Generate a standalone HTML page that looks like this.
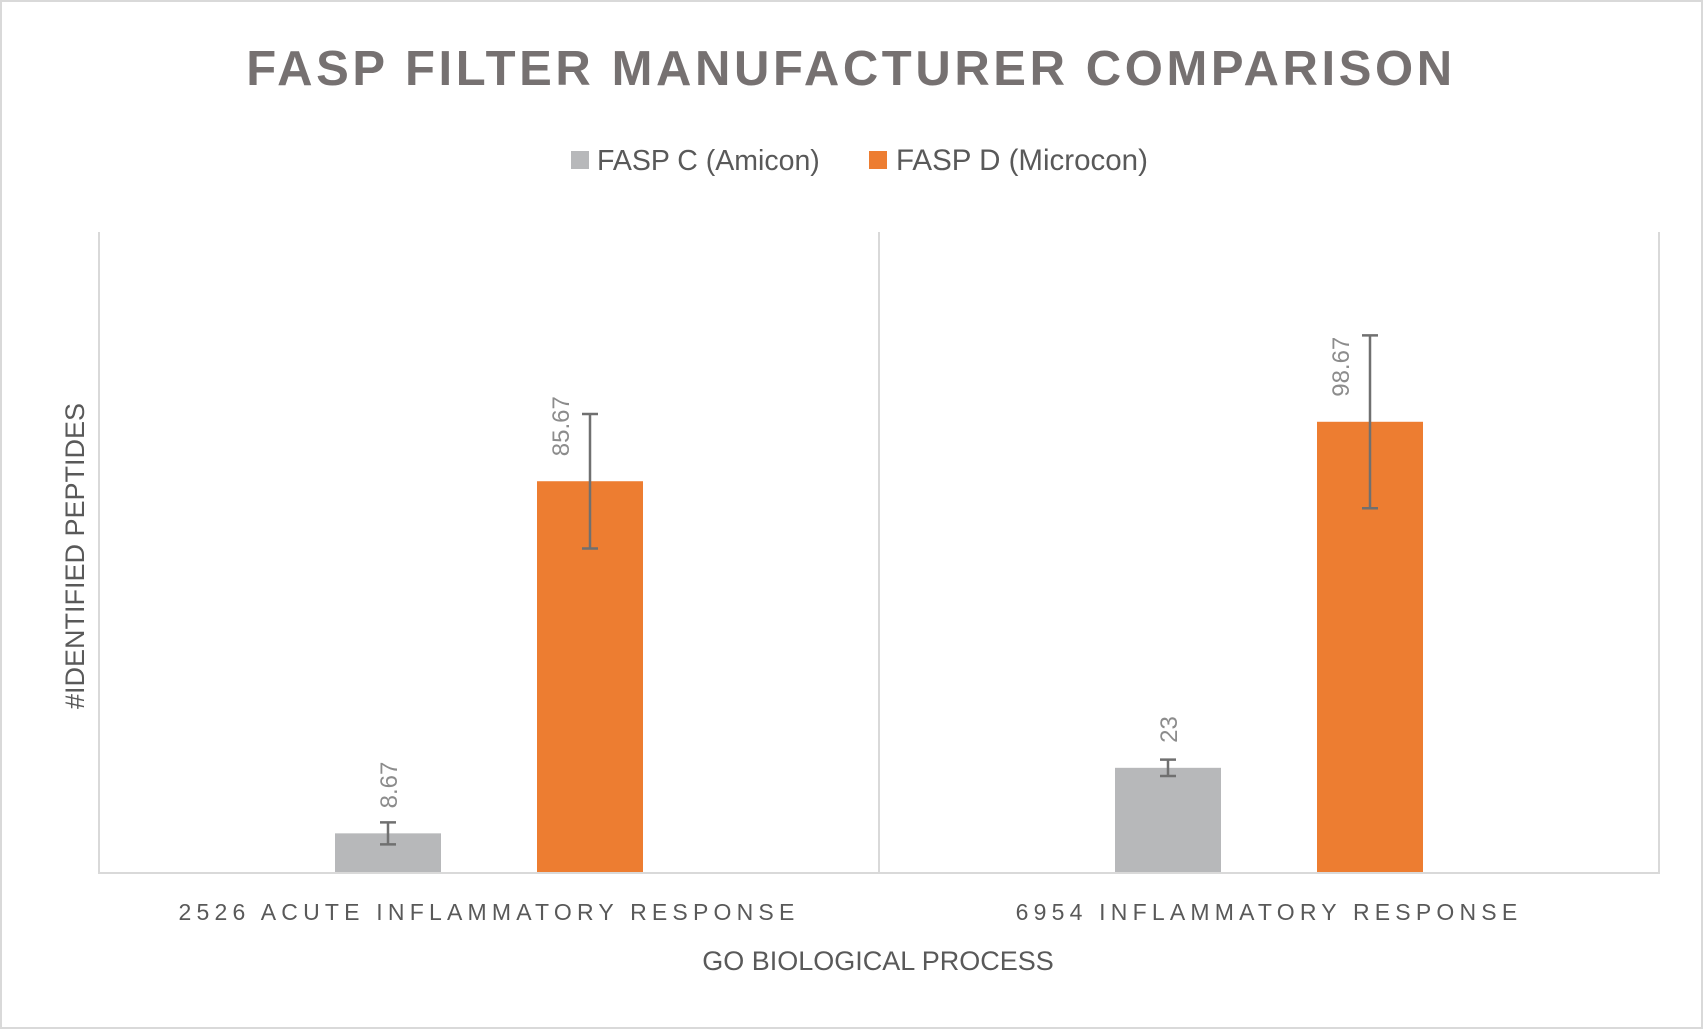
<!DOCTYPE html>
<html><head><meta charset="utf-8"><style>
html,body{margin:0;padding:0;background:#fff;}
svg{display:block;font-family:"Liberation Sans",sans-serif;}
</style></head><body>
<svg id="chart" width="1703" height="1029" viewBox="0 0 1703 1029">
<rect x="1" y="1" width="1701" height="1027" fill="#fff" stroke="#d9d9d9" stroke-width="2"/>
<text x="851" y="85" text-anchor="middle" font-size="49" font-weight="bold" fill="#767171" letter-spacing="3.6">FASP FILTER MANUFACTURER COMPARISON</text>
<g>
<g><rect x="571" y="151" width="18" height="18" fill="#b7b8ba"/><text x="597" y="170" font-size="28.5" fill="#595959">FASP C (Amicon)</text></g>
<g><rect x="869" y="151" width="18" height="18" fill="#ed7d31"/><text x="896" y="170" font-size="29.5" fill="#595959">FASP D (Microcon)</text></g>
</g>
<text transform="translate(84,556) rotate(-90)" text-anchor="middle" font-size="27" fill="#595959">#IDENTIFIED PEPTIDES</text>
<text x="878" y="970" text-anchor="middle" font-size="27" fill="#595959">GO BIOLOGICAL PROCESS</text>
<g id="plot"></g>
</svg>
<script>
const categories = ["2526 ACUTE INFLAMMATORY RESPONSE", "6954 INFLAMMATORY RESPONSE"];
const seriesNames = ["FASP C (Amicon)", "FASP D (Microcon)"];
const valuesC = [8.67, 23];
const valuesD = [85.67, 98.67];
const errorsC = [2.4, 1.8];
const errorsD = [14.7, 18.9];
const labelsC = ["8.67", "23"];
const labelsD = ["85.67", "98.67"];

const NS = "http://www.w3.org/2000/svg";
const plot = document.getElementById('plot');
const L = 99, R = 1659, T = 232, B = 873;
const pxPerUnit = 4.573;
const y = v => B - v * pxPerUnit;
const catW = (R - L) / categories.length;
const barW = 106;
const colors = ["#b7b8ba", "#ed7d31"];
const xBar = (ci, si) => L + ci * catW + catW / 2 + (si === 0 ? -101 : 101);

function mk(tag, attrs) {
  const e = document.createElementNS(NS, tag);
  for (const k in attrs) e.setAttribute(k, attrs[k]);
  plot.appendChild(e);
  return e;
}
let e = mk('line', {x1: L, y1: T, x2: L, y2: B, stroke: '#d9d9d9', 'stroke-width': 2});


e = mk('line', {x1: R, y1: T, x2: R, y2: B, stroke: '#d9d9d9', 'stroke-width': 2});


e = mk('line', {x1: L + catW, y1: T, x2: L + catW, y2: B, stroke: '#d9d9d9', 'stroke-width': 2});



const series = [[valuesC, errorsC, labelsC], [valuesD, errorsD, labelsD]];
series.forEach((s, si) => {
  const [vals, errs, labs] = s;
  vals.forEach((v, ci) => {
    const cx = xBar(ci, si);
    const r = mk('rect', {x: cx - barW / 2, y: y(v), width: barW, height: B - y(v), fill: colors[si]});
    
    
    const g = mk('path', {d: `M${cx},${y(v + errs[ci])}V${y(v - errs[ci])}M${cx - 8},${y(v + errs[ci])}H${cx + 8}M${cx - 8},${y(v - errs[ci])}H${cx + 8}`, stroke: '#707070', 'stroke-width': 2.5, fill: 'none'});
    
    
    const lx = cx + (v > 50 ? -30 : 0) + 9;
    const ly = y(v) - 25;
    const t = mk('text', {transform: `translate(${lx},${ly}) rotate(-90)`, 'font-size': 24, fill: '#8c8c8c', 'text-anchor': 'start'});
    t.textContent = labs[ci];
    
    
  });
});
e = mk('line', {x1: L - 1, y1: B, x2: R + 1, y2: B, stroke: '#d9d9d9', 'stroke-width': 2});


categories.forEach((c, ci) => {
  const t = mk('text', {x: L + ci * catW + catW / 2, y: 920, 'text-anchor': 'middle', 'font-size': 23, fill: '#595959', 'letter-spacing': 5.2});
  t.textContent = c;
  
  
});
</script>
</body></html>
